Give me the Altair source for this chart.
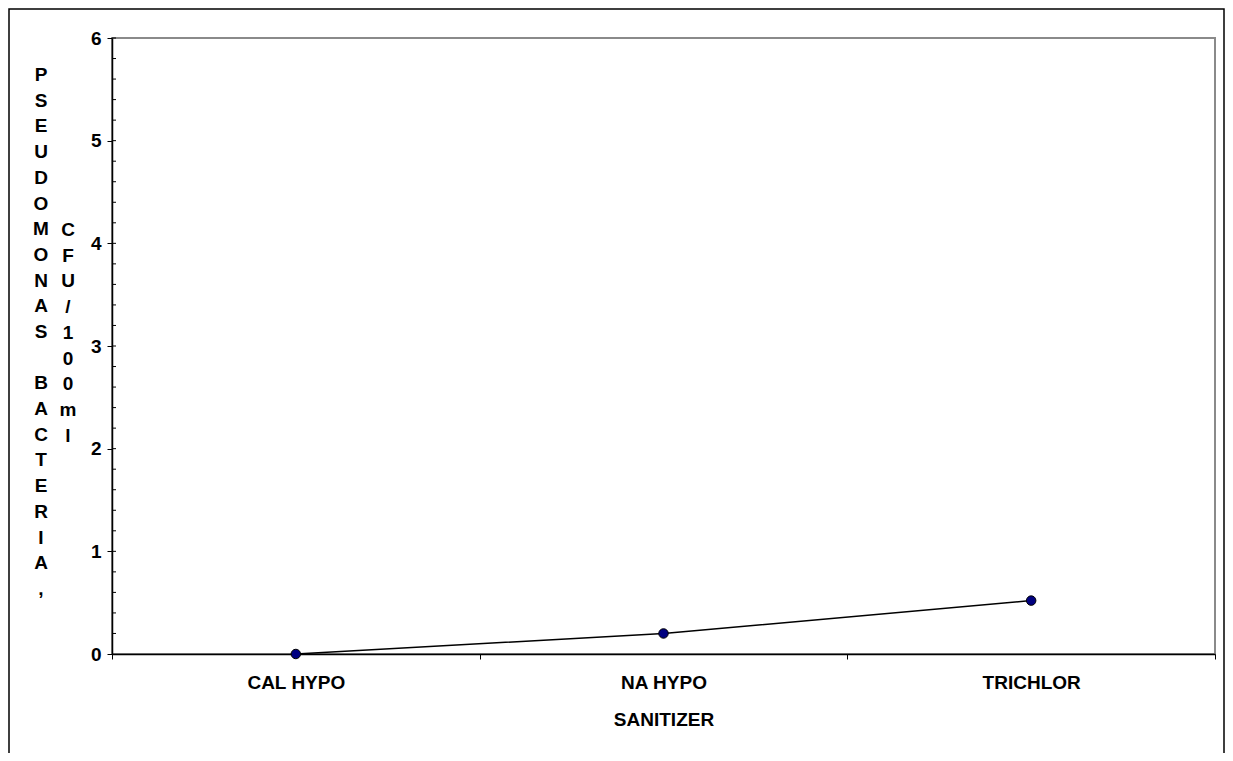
import altair as alt
import pandas as pd

# ---- data ----
sanitizers = ["CAL HYPO", "NA HYPO", "TRICHLOR"]
counts = [0.0, 0.2, 0.52]
minor_ticks = [round(i * 0.2, 1) for i in range(1, 31)]
y_title_part1 = "PSEUDOMONAS"
y_title_part2 = "BACTERIA,"
y_title_part3 = "CFU/100ml"
x_title = "SANITIZER"

W, H = 1103, 616
FONT = "Liberation Sans"
FS = 19
LH = 25.7

df = pd.DataFrame({"sanitizer": sanitizers, "count": counts})
df_minor = pd.DataFrame({"v": minor_ticks})

def stack(s):
    return "\n".join(s)

df_t = pd.DataFrame({
    "t1": [stack(y_title_part1)],
    "t2": [stack(y_title_part2)],
    "t3": [stack(y_title_part3)],
})

x_enc = alt.X(
    "sanitizer:N",
    sort=sanitizers,
    scale=alt.Scale(type="band", paddingInner=0, paddingOuter=0),
    axis=alt.Axis(
        title=x_title,
        labelAngle=0,
        tickBand="extent",
        tickSize=5,
        tickColor="black",
        domainColor="black",
        domainWidth=1.5,
        labelFont=FONT,
        labelFontWeight="bold",
        labelFontSize=FS,
        labelColor="black",
        labelPadding=14,
        titleFont=FONT,
        titleFontWeight="bold",
        titleFontSize=FS,
        titleColor="black",
        titlePadding=18,
    ),
)
y_enc = alt.Y(
    "count:Q",
    scale=alt.Scale(domain=[0, 6], nice=False),
    axis=alt.Axis(
        title=None,
        values=[0, 1, 2, 3, 4, 5, 6],
        format="d",
        tickSize=5,
        tickColor="black",
        domainColor="black",
        domainWidth=1.5,
        grid=False,
        labelFont=FONT,
        labelFontWeight="bold",
        labelFontSize=FS,
        labelColor="black",
        labelPadding=6,
    ),
)

line = alt.Chart(df).mark_line(color="black", strokeWidth=1.5).encode(x=x_enc, y=y_enc)
pts = alt.Chart(df).mark_point(
    filled=True, fill="#000080", stroke="black", strokeWidth=1, size=90, opacity=1
).encode(x=alt.X("sanitizer:N", sort=sanitizers), y="count:Q")

minor = alt.Chart(df_minor).mark_rule(color="black", strokeWidth=1).encode(
    y=alt.Y("v:Q"), x=alt.value(0), x2=alt.value(4)
)

def vtext(field, xv, yv):
    return alt.Chart(df_t).mark_text(
        font=FONT, fontWeight="bold", fontSize=FS, color="black",
        lineBreak="\n", lineHeight=LH, align="center", baseline="middle",
    ).encode(text=f"{field}:N", x=alt.value(xv), y=alt.value(yv))

t1 = vtext("t1", -71, 37)
t2 = vtext("t2", -71, 37 + 12 * LH)
t3 = vtext("t3", -44, 192)

border = alt.Chart(df_t).mark_rect(
    fill=None, stroke="black", strokeWidth=1.5, clip=False
).encode(x=alt.value(-103), x2=alt.value(W + 9), y=alt.value(-29), y2=alt.value(H + 300))

chart = alt.layer(border, minor, line, pts, t1, t2, t3).properties(
    width=W,
    height=H,
    background="white",
    autosize=alt.AutoSizeParams(type="none"),
    padding={"left": 104, "top": 30, "right": 10, "bottom": 99},
).configure_view(stroke="#8a8a8a", strokeWidth=2)

chart.save("out.html", embed_options={"renderer": "svg", "actions": False})
